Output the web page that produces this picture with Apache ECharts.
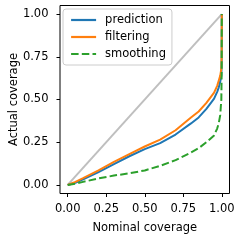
<!DOCTYPE html>
<html><head><meta charset="utf-8">
<script src="https://cdn.jsdelivr.net/npm/echarts@6/dist/echarts.min.js"></script>
<style>html,body{margin:0;padding:0;background:#fff}#c{width:240px;height:240px}</style>
</head><body><div id="c"></div>
<script>
const nominal = [0, 0.05, 0.1, 0.2, 0.3, 0.4, 0.5, 0.6, 0.7, 0.8, 0.85, 0.9, 0.95, 0.97, 0.98, 0.99, 0.997, 0.999, 1.0];
const prediction = [0, 0.013, 0.033, 0.075, 0.122, 0.168, 0.21, 0.245, 0.295, 0.36, 0.395, 0.445, 0.505, 0.545, 0.57, 0.605, 0.64, 0.7, 1.0];
const filtering = [0, 0.018, 0.04, 0.085, 0.135, 0.18, 0.225, 0.265, 0.32, 0.395, 0.43, 0.48, 0.54, 0.58, 0.61, 0.64, 0.68, 0.75, 1.0];
const smoothing = [0, 0.008, 0.018, 0.038, 0.055, 0.068, 0.085, 0.112, 0.145, 0.19, 0.215, 0.25, 0.29, 0.33, 0.36, 0.41, 0.5, 0.65, 1.0];
const diagonal = [[0, 0], [1, 1]];
const tickValues = [0, 0.25, 0.5, 0.75, 1.0];

const zip = ys => nominal.map((x, i) => [x, ys[i]]);
const font = 'DejaVu Sans';
const chart = echarts.init(document.getElementById('c'), null, {renderer: 'canvas'});
const axisCommon = {
  type: 'value', min: -0.05, max: 1.05,
  splitLine: {show: false},
  axisLine: {show: false, onZero: false},
  axisTick: {show: true, length: 3.5, lineStyle: {color: '#000', width: 1}, customValues: tickValues},
  axisLabel: {customValues: tickValues, formatter: v => v.toFixed(2), color: '#000', fontFamily: font, fontSize: 11.5},
  nameLocation: 'middle',
  nameMoveOverlap: false,
  nameTextStyle: {color: '#000', fontFamily: font, fontSize: 11.5}
};
chart.setOption({
  animation: false,
  grid: {left: 60, right: 10.5, top: 5.5, bottom: 46.5, outerBoundsMode: 'none', containLabel: false,
    show: true, borderColor: '#000', borderWidth: 1, backgroundColor: 'transparent'},
  xAxis: Object.assign({}, axisCommon, {name: 'Nominal coverage', nameGap: 28.5,
    axisLabel: Object.assign({}, axisCommon.axisLabel, {margin: 9.5})}),
  yAxis: Object.assign({}, axisCommon, {name: 'Actual coverage', nameGap: 40,
    axisLabel: Object.assign({}, axisCommon.axisLabel, {margin: 11.5})}),
  legend: {
    data: ['prediction', 'filtering', 'smoothing'],
    orient: 'vertical', left: 63, top: 9,
    padding: [4, 6, 4, 7],
    itemWidth: 25, itemHeight: 14, itemGap: 3,
    itemStyle: {color: 'rgba(0,0,0,0)', borderWidth: 0, opacity: 0},
    lineStyle: {width: 2.2},
    backgroundColor: 'rgba(255,255,255,0.8)', borderColor: '#cccccc', borderWidth: 1, borderRadius: 3,
    textStyle: {color: '#000', fontFamily: font, fontSize: 11.5, lineHeight: 14, padding: [0, 0, 0, 4]}
  },
  series: [
    {name: 'diag', type: 'line', data: diagonal, symbol: 'none', lineStyle: {color: '#bfbfbf', width: 2}, silent: true, z: 1},
    {name: 'prediction', type: 'line', data: zip(prediction), symbol: 'none', color: '#1f77b4', lineStyle: {color: '#1f77b4', width: 2}, z: 2},
    {name: 'filtering', type: 'line', data: zip(filtering), symbol: 'none', color: '#ff7f0e', lineStyle: {color: '#ff7f0e', width: 2}, z: 3},
    {name: 'smoothing', type: 'line', data: zip(smoothing), symbol: 'none', color: '#2ca02c', lineStyle: {color: '#2ca02c', width: 2, type: [7.5, 3.2]}, z: 4}
  ]
});
</script></body></html>
